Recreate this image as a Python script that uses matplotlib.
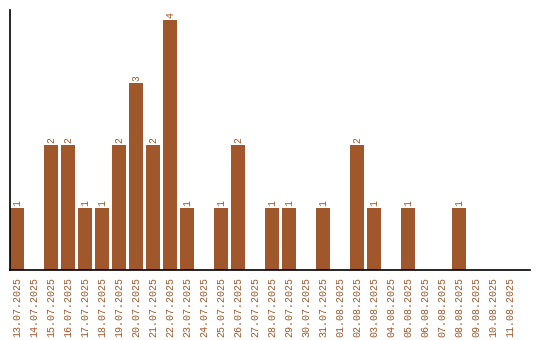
import numpy as np
import matplotlib.pyplot as plt

# dni i liczby
daty = ['13.07.2025', '14.07.2025', '15.07.2025', '16.07.2025', '17.07.2025',
        '18.07.2025', '19.07.2025', '20.07.2025', '21.07.2025', '22.07.2025',
        '23.07.2025', '24.07.2025', '25.07.2025', '26.07.2025', '27.07.2025',
        '28.07.2025', '29.07.2025', '30.07.2025', '31.07.2025', '01.08.2025',
        '02.08.2025', '03.08.2025', '04.08.2025', '05.08.2025', '06.08.2025',
        '07.08.2025', '08.08.2025', '09.08.2025', '10.08.2025', '11.08.2025']
wartosci = [1, 0, 2, 2, 1, 1, 2, 3, 2, 4, 1, 0, 1, 2, 0,
            1, 1, 0, 1, 0, 2, 1, 0, 1, 0, 0, 1, 0, 0, 0]

kolor = '#a0572b'
plt.rcParams['font.family'] = ['Liberation Mono', 'DejaVu Sans Mono']

fig = plt.figure(figsize=(5.4, 3.4), dpi=100)
ax = fig.add_axes([10 / 540, 70 / 340, 520 / 540, 260 / 340])

x = np.arange(len(daty))
szer = 14 / 17
ax.bar(x, wartosci, width=szer, align='edge', color=kolor)

# liczby nad slupkami
for xi, w in zip(x, wartosci):
    if w > 0:
        ax.text(xi + szer / 2, w + 0.03, str(w), rotation=90, ha='center', va='bottom',
                fontsize=7, color=kolor)

ax.set_xlim(0, 520 / 17)
ax.set_ylim(0, 260 / 62.5)
ax.set_xticks(x + szer / 2)
ax.set_xticklabels(daty, rotation=90, fontsize=7.2, color=kolor)
ax.tick_params(axis='x', length=0, pad=5)
ax.set_yticks([])
ax.spines['top'].set_visible(False)
ax.spines['right'].set_visible(False)
ax.spines['left'].set_linewidth(1.2)
ax.spines['bottom'].set_linewidth(1.2)

fig.savefig('out.png', dpi=100)
